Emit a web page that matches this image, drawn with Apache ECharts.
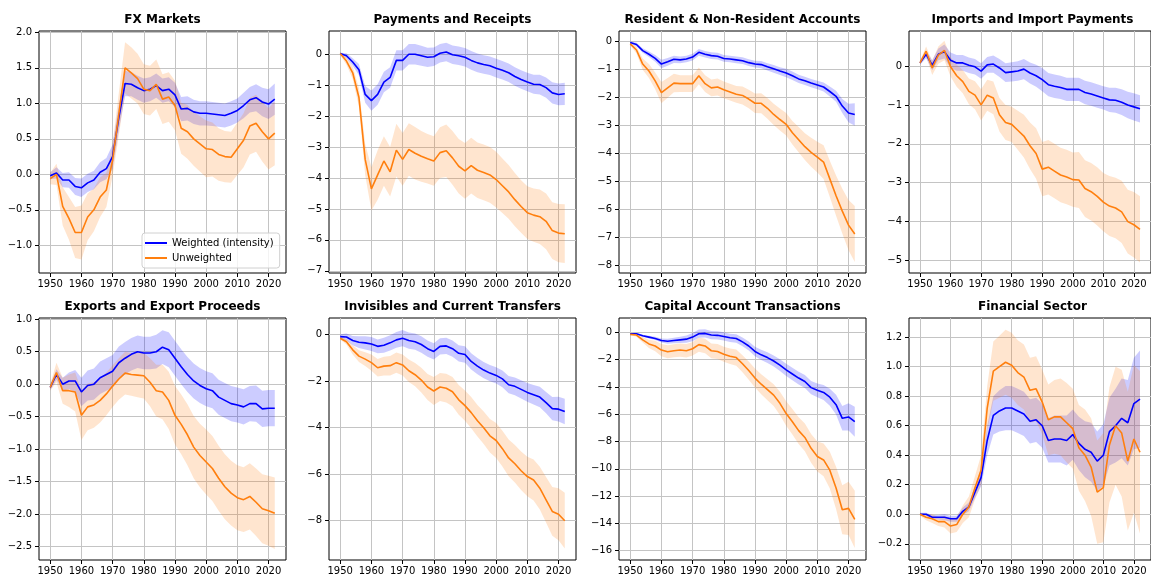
<!DOCTYPE html>
<html>
<head>
<meta charset="utf-8">
<script src="https://cdn.jsdelivr.net/npm/echarts@6/dist/echarts.min.js"></script>
<style>
  html, body { margin: 0; background: #fff; }
  #chart { width: 1151px; height: 576px; }
</style>
</head>
<body>
<div id="chart"></div>
<script>
// years read every two years
const years = [1950,1952,1954,1956,1958,1960,1962,1964,1966,1968,1970,1972,1974,1976,1978,1980,1982,1984,1986,1988,1990,1992,1994,1996,1998,2000,2002,2004,2006,2008,2010,2012,2014,2016,2018,2020,2022];
const xTicks = [1950,1960,1970,1980,1990,2000,2010,2020];

// FX Markets
const fxW   = [-0.02,0.02,-0.08,-0.08,-0.17,-0.19,-0.12,-0.08,0.03,0.08,0.25,0.8,1.28,1.27,1.22,1.18,1.2,1.25,1.18,1.2,1.12,0.92,0.93,0.88,0.86,0.86,0.85,0.84,0.83,0.86,0.9,0.97,1.05,1.08,1.02,0.99,1.06];
const fxWE  = [0.05,0.08,0.1,0.11,0.12,0.13,0.13,0.13,0.14,0.15,0.17,0.18,0.18,0.17,0.17,0.17,0.17,0.17,0.17,0.17,0.17,0.17,0.17,0.17,0.17,0.17,0.17,0.17,0.17,0.17,0.17,0.18,0.18,0.19,0.2,0.21,0.22];
const fxU   = [-0.06,0.0,-0.45,-0.62,-0.82,-0.82,-0.6,-0.5,-0.32,-0.22,0.2,0.85,1.5,1.43,1.35,1.2,1.18,1.27,1.06,1.09,0.97,0.65,0.6,0.5,0.43,0.36,0.35,0.28,0.25,0.24,0.36,0.48,0.68,0.72,0.6,0.5,0.58];
const fxUE  = [0.08,0.15,0.27,0.3,0.36,0.38,0.33,0.3,0.28,0.24,0.22,0.3,0.36,0.36,0.35,0.35,0.35,0.35,0.35,0.35,0.35,0.36,0.38,0.38,0.39,0.4,0.38,0.37,0.36,0.36,0.37,0.38,0.4,0.4,0.42,0.43,0.45];
const fxTicks = [-1,-0.5,0,0.5,1,1.5,2];

// Payments and Receipts
const payW  = [0.02,-0.05,-0.25,-0.5,-1.3,-1.5,-1.3,-0.9,-0.75,-0.2,-0.2,0.0,0.0,-0.05,-0.1,-0.08,0.03,0.07,-0.02,-0.05,-0.1,-0.2,-0.28,-0.33,-0.37,-0.45,-0.52,-0.6,-0.72,-0.82,-0.9,-0.97,-0.98,-1.08,-1.25,-1.3,-1.28];
const payWE = [0.03,0.08,0.12,0.18,0.27,0.33,0.33,0.33,0.33,0.33,0.33,0.33,0.33,0.32,0.31,0.3,0.3,0.3,0.3,0.3,0.3,0.3,0.3,0.3,0.3,0.3,0.3,0.3,0.3,0.3,0.3,0.31,0.32,0.33,0.34,0.35,0.36];
const payU  = [0.02,-0.22,-0.6,-1.4,-3.4,-4.35,-3.9,-3.45,-3.8,-3.1,-3.4,-3.08,-3.2,-3.3,-3.38,-3.45,-3.18,-3.12,-3.35,-3.62,-3.77,-3.6,-3.75,-3.82,-3.9,-4.05,-4.25,-4.45,-4.7,-4.92,-5.12,-5.2,-5.25,-5.4,-5.7,-5.78,-5.8];
const payUE = [0.05,0.12,0.2,0.3,0.5,0.7,0.8,0.8,0.8,0.85,0.85,0.85,0.85,0.82,0.8,0.8,0.82,0.85,0.87,0.88,0.9,0.9,0.9,0.9,0.9,0.9,0.88,0.87,0.86,0.85,0.85,0.86,0.88,0.9,0.92,0.94,0.95];
const payTicks = [-7,-6,-5,-4,-3,-2,-1,0];

// Resident & Non-Resident Accounts
const resW  = [-0.03,-0.1,-0.32,-0.45,-0.6,-0.8,-0.72,-0.63,-0.65,-0.62,-0.55,-0.38,-0.45,-0.5,-0.52,-0.6,-0.62,-0.65,-0.68,-0.75,-0.8,-0.82,-0.9,-0.97,-1.05,-1.12,-1.22,-1.33,-1.4,-1.48,-1.55,-1.62,-1.78,-1.95,-2.3,-2.55,-2.6];
const resWE = [0.04,0.06,0.08,0.1,0.12,0.15,0.14,0.13,0.12,0.12,0.12,0.12,0.12,0.12,0.12,0.12,0.12,0.12,0.12,0.12,0.12,0.13,0.13,0.14,0.14,0.15,0.15,0.15,0.15,0.15,0.15,0.16,0.18,0.2,0.25,0.33,0.4];
const resU  = [-0.08,-0.3,-0.8,-1.05,-1.4,-1.82,-1.65,-1.48,-1.5,-1.5,-1.5,-1.22,-1.5,-1.65,-1.62,-1.72,-1.8,-1.88,-1.92,-2.05,-2.2,-2.2,-2.38,-2.6,-2.78,-2.95,-3.25,-3.5,-3.75,-3.95,-4.12,-4.3,-4.9,-5.5,-6.05,-6.55,-6.87];
const resUE = [0.05,0.12,0.2,0.25,0.3,0.38,0.35,0.33,0.3,0.3,0.3,0.3,0.3,0.3,0.3,0.3,0.3,0.3,0.32,0.33,0.35,0.36,0.37,0.38,0.39,0.4,0.42,0.45,0.48,0.52,0.55,0.6,0.65,0.72,0.8,0.9,1.0];
const resTicks = [-8,-7,-6,-5,-4,-3,-2,-1,0];

// Imports and Import Payments
const impW  = [0.08,0.3,0.02,0.3,0.37,0.15,0.08,0.08,0.02,-0.02,-0.13,0.03,0.05,-0.05,-0.17,-0.15,-0.13,-0.08,-0.18,-0.25,-0.35,-0.48,-0.52,-0.55,-0.6,-0.6,-0.6,-0.68,-0.72,-0.77,-0.82,-0.87,-0.88,-0.93,-1.0,-1.05,-1.1];
const impWE = [0.05,0.1,0.13,0.15,0.18,0.2,0.2,0.2,0.2,0.2,0.2,0.2,0.22,0.23,0.24,0.25,0.25,0.26,0.27,0.28,0.3,0.3,0.3,0.3,0.3,0.3,0.3,0.3,0.3,0.3,0.3,0.31,0.32,0.33,0.34,0.35,0.35];
const impU  = [0.08,0.38,-0.05,0.28,0.4,-0.02,-0.25,-0.4,-0.65,-0.75,-1.0,-0.75,-0.82,-1.25,-1.45,-1.5,-1.65,-1.8,-2.05,-2.25,-2.65,-2.6,-2.7,-2.8,-2.85,-2.92,-2.93,-3.15,-3.23,-3.35,-3.5,-3.6,-3.65,-3.75,-4.0,-4.08,-4.2];
const impUE = [0.05,0.12,0.18,0.22,0.25,0.25,0.28,0.3,0.33,0.36,0.4,0.4,0.42,0.43,0.45,0.45,0.5,0.55,0.6,0.65,0.7,0.7,0.7,0.7,0.7,0.7,0.72,0.73,0.74,0.75,0.75,0.77,0.78,0.8,0.82,0.84,0.85];
const impTicks = [-5,-4,-3,-2,-1,0];

// Exports and Export Proceeds
const expW  = [-0.05,0.15,0.0,0.05,0.05,-0.12,-0.02,0.0,0.1,0.15,0.2,0.33,0.4,0.46,0.5,0.48,0.48,0.5,0.57,0.53,0.4,0.27,0.15,0.05,-0.02,-0.07,-0.1,-0.2,-0.25,-0.3,-0.32,-0.35,-0.3,-0.3,-0.38,-0.37,-0.37];
const expWE = [0.04,0.08,0.1,0.13,0.17,0.22,0.23,0.24,0.25,0.25,0.25,0.25,0.25,0.25,0.25,0.25,0.25,0.26,0.26,0.27,0.27,0.27,0.27,0.27,0.27,0.27,0.27,0.27,0.27,0.27,0.27,0.27,0.27,0.28,0.28,0.28,0.28];
const expU  = [-0.05,0.18,-0.1,-0.1,-0.12,-0.48,-0.35,-0.32,-0.25,-0.15,-0.03,0.08,0.17,0.15,0.14,0.13,0.03,-0.1,-0.12,-0.25,-0.48,-0.62,-0.78,-0.97,-1.1,-1.2,-1.3,-1.45,-1.58,-1.68,-1.75,-1.78,-1.73,-1.82,-1.92,-1.95,-1.99];
const expUE = [0.05,0.15,0.2,0.25,0.3,0.38,0.36,0.35,0.34,0.33,0.32,0.32,0.33,0.33,0.34,0.35,0.37,0.4,0.42,0.44,0.45,0.46,0.47,0.48,0.49,0.5,0.5,0.5,0.5,0.5,0.5,0.5,0.51,0.52,0.53,0.54,0.55];
const expTicks = [-2.5,-2,-1.5,-1,-0.5,0,0.5,1];

// Invisibles and Current Transfers
const invW  = [-0.08,-0.1,-0.25,-0.32,-0.35,-0.4,-0.5,-0.45,-0.35,-0.22,-0.15,-0.25,-0.3,-0.42,-0.6,-0.72,-0.5,-0.48,-0.6,-0.8,-0.85,-1.15,-1.35,-1.52,-1.65,-1.75,-1.9,-2.15,-2.22,-2.35,-2.48,-2.58,-2.68,-2.92,-3.18,-3.2,-3.3];
const invWE = [0.1,0.15,0.2,0.25,0.28,0.3,0.3,0.32,0.33,0.34,0.35,0.35,0.35,0.35,0.35,0.35,0.35,0.35,0.35,0.35,0.35,0.35,0.35,0.35,0.35,0.35,0.36,0.37,0.38,0.39,0.4,0.42,0.44,0.46,0.5,0.53,0.55];
const invU  = [-0.15,-0.3,-0.65,-0.92,-1.05,-1.2,-1.42,-1.35,-1.33,-1.2,-1.3,-1.55,-1.72,-1.95,-2.25,-2.42,-2.25,-2.3,-2.45,-2.8,-3.05,-3.35,-3.7,-4.0,-4.35,-4.55,-4.9,-5.3,-5.55,-5.85,-6.1,-6.25,-6.6,-7.1,-7.6,-7.72,-8.0];
const invUE = [0.05,0.12,0.2,0.25,0.3,0.35,0.38,0.4,0.42,0.44,0.45,0.48,0.5,0.53,0.56,0.6,0.6,0.62,0.63,0.64,0.65,0.67,0.68,0.7,0.72,0.75,0.77,0.79,0.81,0.83,0.85,0.88,0.92,0.98,1.05,1.12,1.2];
const invTicks = [-8,-6,-4,-2,0];

// Capital Account Transactions
const capW  = [-0.1,-0.1,-0.25,-0.35,-0.45,-0.6,-0.65,-0.6,-0.55,-0.5,-0.35,-0.1,-0.08,-0.2,-0.22,-0.3,-0.4,-0.45,-0.7,-1.0,-1.4,-1.65,-1.85,-2.1,-2.4,-2.75,-3.05,-3.35,-3.6,-4.05,-4.25,-4.4,-4.75,-5.3,-6.3,-6.2,-6.55];
const capWE = [0.05,0.06,0.08,0.1,0.12,0.15,0.18,0.2,0.23,0.26,0.3,0.3,0.3,0.3,0.3,0.3,0.3,0.31,0.32,0.33,0.35,0.37,0.39,0.41,0.43,0.45,0.46,0.47,0.48,0.49,0.5,0.55,0.62,0.72,0.9,1.0,1.1];
const capU  = [-0.15,-0.2,-0.55,-0.85,-1.0,-1.3,-1.42,-1.35,-1.3,-1.35,-1.2,-0.9,-1.0,-1.35,-1.4,-1.6,-1.75,-1.85,-2.3,-2.8,-3.35,-3.8,-4.2,-4.6,-5.2,-5.95,-6.55,-7.2,-7.7,-8.5,-9.1,-9.35,-10.1,-11.4,-13.0,-12.9,-13.7];
const capUE = [0.05,0.12,0.2,0.3,0.38,0.45,0.47,0.48,0.49,0.5,0.5,0.52,0.53,0.54,0.55,0.55,0.57,0.6,0.63,0.67,0.7,0.73,0.77,0.8,0.85,0.9,0.94,0.98,1.02,1.06,1.1,1.2,1.35,1.55,1.8,1.95,2.1];
const capTicks = [-16,-14,-12,-10,-8,-6,-4,-2,0];

// Financial Sector
const finW  = [0,0,-0.02,-0.02,-0.02,-0.03,-0.03,0.02,0.05,0.15,0.25,0.5,0.67,0.7,0.72,0.72,0.7,0.68,0.63,0.64,0.6,0.5,0.51,0.51,0.5,0.54,0.48,0.44,0.42,0.36,0.4,0.56,0.6,0.65,0.62,0.75,0.78];
const finWE = [0.01,0.01,0.015,0.015,0.02,0.02,0.02,0.025,0.03,0.04,0.06,0.1,0.13,0.14,0.15,0.15,0.15,0.15,0.15,0.15,0.15,0.15,0.16,0.16,0.17,0.17,0.18,0.19,0.2,0.2,0.21,0.23,0.25,0.27,0.29,0.31,0.33];
const finU  = [0,-0.02,-0.03,-0.05,-0.05,-0.08,-0.07,0.0,0.05,0.18,0.3,0.72,0.97,1.0,1.03,1.01,0.96,0.93,0.84,0.85,0.76,0.64,0.66,0.66,0.62,0.58,0.45,0.4,0.32,0.15,0.18,0.47,0.6,0.55,0.36,0.51,0.42];
const finUE = [0.01,0.02,0.03,0.03,0.04,0.05,0.05,0.06,0.07,0.08,0.1,0.15,0.2,0.21,0.22,0.22,0.22,0.22,0.22,0.22,0.22,0.24,0.25,0.26,0.27,0.27,0.29,0.31,0.33,0.35,0.37,0.39,0.4,0.43,0.47,0.5,0.55];
const finTicks = [-0.2,0,0.2,0.4,0.6,0.8,1.0,1.2];

const panels = [
  { title: 'FX Markets', w: fxW, we: fxWE, u: fxU, ue: fxUE, ticks: fxTicks, dec: 1, ymin: -1.39, ymax: 2.02 },
  { title: 'Payments and Receipts', w: payW, we: payWE, u: payU, ue: payUE, ticks: payTicks, dec: 0, ymin: -7.07, ymax: 0.75 },
  { title: 'Resident & Non-Resident Accounts', w: resW, we: resWE, u: resU, ue: resUE, ticks: resTicks, dec: 0, ymin: -8.26, ymax: 0.38 },
  { title: 'Imports and Import Payments', w: impW, we: impWE, u: impU, ue: impUE, ticks: impTicks, dec: 0, ymin: -5.32, ymax: 0.9 },
  { title: 'Exports and Export Proceeds', w: expW, we: expWE, u: expU, ue: expUE, ticks: expTicks, dec: 1, ymin: -2.71, ymax: 1.02 },
  { title: 'Invisibles and Current Transfers', w: invW, we: invWE, u: invU, ue: invUE, ticks: invTicks, dec: 0, ymin: -9.69, ymax: 0.72 },
  { title: 'Capital Account Transactions', w: capW, we: capWE, u: capU, ue: capUE, ticks: capTicks, dec: 0, ymin: -16.68, ymax: 1.05 },
  { title: 'Financial Sector', w: finW, we: finWE, u: finU, ue: finUE, ticks: finTicks, dec: 1, ymin: -0.31, ymax: 1.33 }
];

const FONT = 'DejaVu Sans';
const BLUE = '#0000ff';
const ORANGE = '#ff7f0e';
const colLeft = [39, 329, 619, 909];
const rowTop = [31, 318];
const PW = 247, PH = 242;

const pairs = arr => arr.map((v, i) => [years[i], v]);
const fmt = dec => v => v.toFixed(dec).replace('-', '\u2212');

const grids = [], xAxes = [], yAxes = [], titles = [], series = [];

// shaded band: one polygon, upper edge then lower edge reversed, placed by the axes
function band(i, vals, errs, color) {
  const rows = years.map((y, k) => [y, +(vals[k] - errs[k]).toFixed(4), +(vals[k] + errs[k]).toFixed(4)]);
  series.push({
    type: 'custom', xAxisIndex: i, yAxisIndex: i, silent: true, z: 1,
    encode: { x: 0, y: [1, 2] },
    data: rows,
    renderItem: (params, api) => {
      if (params.dataIndex !== 0) return null;
      const up = rows.map(r => api.coord([r[0], r[2]]));
      const lo = rows.map(r => api.coord([r[0], r[1]])).reverse();
      return { type: 'polygon', shape: { points: up.concat(lo) }, style: { fill: color } };
    }
  });
}

panels.forEach((p, i) => {
  const left = colLeft[i % 4];
  const top = rowTop[Math.floor(i / 4)];
  grids.push({ left: left, top: top, width: PW, height: PH, show: true, borderColor: '#000', borderWidth: 1, containLabel: false });
  titles.push({
    text: p.title, left: left + PW / 2, top: top - 17, textAlign: 'center', padding: 0,
    textStyle: { fontFamily: FONT, fontSize: 12, fontWeight: 'bold', color: '#000' }
  });
  xAxes.push({
    type: 'value', gridIndex: i, min: 1946.4, max: 2025.6,
    axisLine: { show: false, onZero: false },
    axisTick: { show: true, inside: false, length: 4, customValues: xTicks, lineStyle: { color: '#000' } },
    axisLabel: { customValues: xTicks, margin: 6, fontFamily: FONT, fontSize: 10, color: '#000', formatter: v => String(v) },
    splitLine: { show: true, lineStyle: { color: '#c4c4c4', width: 1 } }
  });
  yAxes.push({
    type: 'value', gridIndex: i, min: p.ymin, max: p.ymax,
    axisLine: { show: false, onZero: false },
    axisTick: { show: true, inside: false, length: 4, customValues: p.ticks, lineStyle: { color: '#000' } },
    axisLabel: { customValues: p.ticks, margin: 7, fontFamily: FONT, fontSize: 10, color: '#000', formatter: fmt(p.dec) },
    splitLine: { show: true, lineStyle: { color: '#c4c4c4', width: 1 } }
  });
  band(i, p.w, p.we, 'rgba(0,0,255,0.2)');
  band(i, p.u, p.ue, 'rgba(255,127,14,0.2)');
  series.push({
    type: 'line', name: 'Weighted (intensity)', xAxisIndex: i, yAxisIndex: i,
    data: pairs(p.w), symbol: 'none', color: BLUE, lineStyle: { width: 1.6, color: BLUE }, z: 3
  });
  series.push({
    type: 'line', name: 'Unweighted', xAxisIndex: i, yAxisIndex: i,
    data: pairs(p.u), symbol: 'none', color: ORANGE, lineStyle: { width: 1.6, color: ORANGE }, z: 4
  });
});

const chart = echarts.init(document.getElementById('chart'), null, { renderer: 'canvas' });
chart.setOption({
  animation: false,
  backgroundColor: '#fff',
  title: titles,
  grid: grids,
  xAxis: xAxes,
  yAxis: yAxes,
  legend: {
    data: ['Weighted (intensity)', 'Unweighted'],
    orient: 'vertical', left: 142, top: 233,
    icon: 'rect', itemWidth: 22, itemHeight: 2, itemGap: 3,
    padding: [4, 6, 4, 3],
    borderColor: '#d0d0d0', borderWidth: 1, borderRadius: 3,
    backgroundColor: 'rgba(255,255,255,0.8)',
    textStyle: { fontFamily: FONT, fontSize: 10, lineHeight: 12, color: '#000' }
  },
  series: series
});
</script>
</body>
</html>
